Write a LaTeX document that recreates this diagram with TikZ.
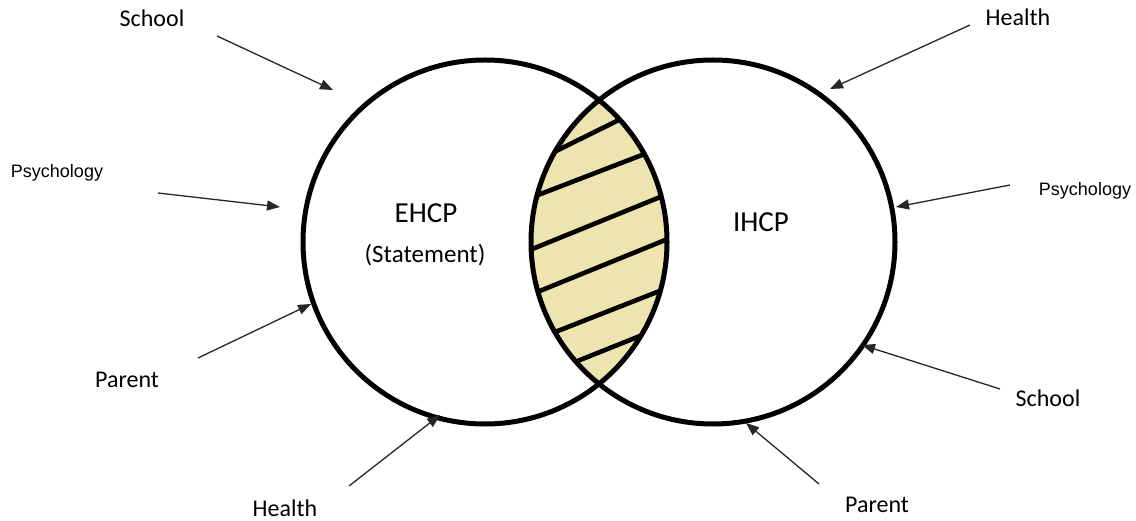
\documentclass[tikz,border=0pt]{standalone}
\usepackage{fontspec}
\setmainfont{Carlito}
\newfontfamily\arialfont{Liberation Sans}
\usetikzlibrary{arrows.meta}
\definecolor{lensfill}{RGB}{238,228,176}
\begin{document}
\begin{tikzpicture}[x=1pt,y=-1pt,
  ring/.style={draw=black,line width=5pt,circle,minimum size=364pt,inner sep=0pt},
  lbl/.style={font=\fontsize{24}{28}\selectfont,inner sep=0pt,text=black},
  psy/.style={font=\arialfont\fontsize{18}{22}\selectfont,inner sep=0pt,text=black},
  big/.style={font=\fontsize{29}{34}\selectfont,inner sep=0pt,text=black},
  stm/.style={font=\fontsize{25}{30}\selectfont,inner sep=0pt,text=black},
  arr/.style={line width=1.3pt,draw=black!85,-{Triangle[length=13pt,width=10pt]}},
  hatch/.style={line width=4.6pt,draw=black}]
\useasboundingbox (0,0) rectangle (1136,521);
% lens
\begin{scope}
  \clip (485,242) circle[radius=182];
  \fill[lensfill] (713,242) circle[radius=182];
  \clip (713,242) circle[radius=182];
  \draw[hatch] (548,155) -- (635,112);
  \draw[hatch] (525,200) -- (655,150);
  \draw[hatch] (520,254) -- (675,191);
  \draw[hatch] (525,297) -- (680,234);
  \draw[hatch] (545,336) -- (675,285);
  \draw[hatch] (570,364) -- (650,332);
\end{scope}
% circles
\node[ring] (left) at (485,242) {};
\node[ring] (right) at (713,242) {};
% circle texts
\node[big] (ehcp) at (426,213) {EHCP};
\node[stm] (stmt) at (425,255) {(Statement)};
\node[big] (ihcp) at (761,222) {IHCP};
% labels
\node[lbl] (schoolL) at (152,18) {School};
\node[psy] (psyL) at (57,173) {Psychology};
\node[lbl] (parentL) at (127,380) {Parent};
\node[lbl] (healthL) at (285,508) {Health};
\node[lbl] (healthR) at (1018,17) {Health};
\node[psy] (psyR) at (1085,191) {Psychology};
\node[lbl] (schoolR) at (1048,398) {School};
\node[lbl] (parentR) at (877,505) {Parent};
% arrow coordinates
\coordinate (a1s) at (217,36);  \coordinate (a1e) at (333,90);
\coordinate (a2s) at (158,193); \coordinate (a2e) at (280,207);
\coordinate (a3s) at (198,358); \coordinate (a3e) at (311,304);
\coordinate (a4s) at (349,486); \coordinate (a4e) at (440,415);
\coordinate (a5s) at (970,25);  \coordinate (a5e) at (830,89);
\coordinate (a6s) at (1010,185);\coordinate (a6e) at (896,207);
\coordinate (a7s) at (1000,389);\coordinate (a7e) at (862,345);
\coordinate (a8s) at (819,484); \coordinate (a8e) at (746,423);
\draw[arr] (a1s) -- (a1e);
\draw[arr] (a2s) -- (a2e);
\draw[arr] (a3s) -- (a3e);
\draw[arr] (a4s) -- (a4e);
\draw[arr] (a5s) -- (a5e);
\draw[arr] (a6s) -- (a6e);
\draw[arr] (a7s) -- (a7e);
\draw[arr] (a8s) -- (a8e);
\end{tikzpicture}
\end{document}
